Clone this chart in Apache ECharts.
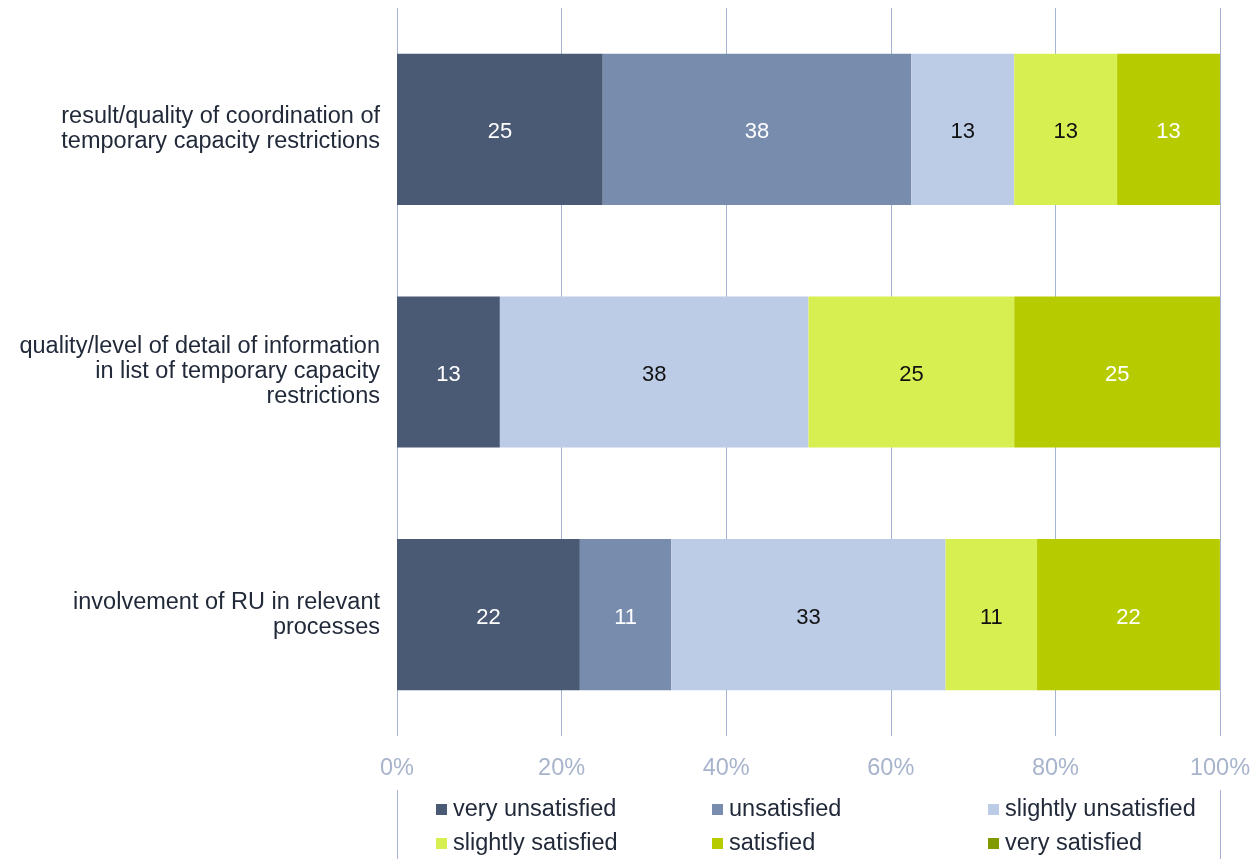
<!DOCTYPE html>
<html>
<head>
<meta charset="utf-8">
<title>Satisfaction with temporary capacity restrictions</title>
<script src="https://cdn.jsdelivr.net/npm/echarts@6/dist/echarts.min.js"></script>
<style>
  html, body { margin: 0; padding: 0; background: #ffffff; }
  #chart { width: 1250px; height: 859px; }
</style>
</head>
<body>
<div id="chart"></div>
<script>
// Survey items (top to bottom)
const categories = [
  'result/quality of coordination of\ntemporary capacity restrictions',
  'quality/level of detail of information\nin list of temporary capacity\nrestrictions',
  'involvement of RU in relevant\nprocesses'
];

// Answer options, in stacking order
const answerNames = [
  'very unsatisfied',
  'unsatisfied',
  'slightly unsatisfied',
  'slightly satisfied',
  'satisfied',
  'very satisfied'
];

// Share of respondents per answer (%), one value per survey item
const veryUnsatisfied     = [25,   12.5, 22.22];
const unsatisfied         = [37.5, 0,    11.11];
const slightlyUnsatisfied = [12.5, 37.5, 33.33];
const slightlySatisfied   = [12.5, 25,   11.11];
const satisfied           = [12.5, 25,   22.22];
const verySatisfied       = [0,    0,    0];

const xTickLabels = ['0%', '20%', '40%', '60%', '80%', '100%'];

const seriesValues = [veryUnsatisfied, unsatisfied, slightlyUnsatisfied, slightlySatisfied, satisfied, verySatisfied];
const colors = ['#4a5a74', '#788cae', '#bdcce6', '#d8ef52', '#b7cc00', '#809a00'];
const labelColors = ['#ffffff', '#ffffff', '#111111', '#111111', '#ffffff', '#ffffff'];

const FONT = '"Liberation Sans", Arial, sans-serif';
const chart = echarts.init(document.getElementById('chart'), null, { renderer: 'canvas' });

const series = seriesValues.map((vals, i) => ({
  name: answerNames[i],
  type: 'bar',
  stack: 'total',
  data: vals,
  barCategoryGap: '37.7%',
  itemStyle: { color: colors[i] },
  label: {
    show: true,
    position: 'inside',
    offset: [0, 3],
    color: labelColors[i],
    fontFamily: FONT,
    fontSize: 22,
    formatter: p => (p.value > 0 ? String(Math.round(p.value)) : '')
  },
  emphasis: { disabled: true }
}));

chart.setOption({
  animation: false,
  backgroundColor: '#ffffff',
  grid: { left: 397, right: 30, top: 8, height: 728, containLabel: false, outerBoundsMode: 'none' },
  xAxis: {
    type: 'value',
    min: 0,
    max: 100,
    interval: 20,
    axisLine: { show: false },
    axisTick: { show: false },
    splitLine: { show: true, lineStyle: { color: '#a4b3d1', width: 1 } },
    axisLabel: {
      color: '#a7b4cc',
      fontFamily: FONT,
      fontSize: 23.5,
      margin: 21,
      formatter: v => xTickLabels[Math.round(v / 20)]
    }
  },
  yAxis: {
    type: 'category',
    inverse: true,
    data: categories,
    axisLine: { show: false },
    axisTick: { show: false },
    axisLabel: {
      color: '#222a3a',
      fontFamily: FONT,
      fontSize: 23.5,
      lineHeight: 25,
      align: 'right',
      margin: 17
    }
  },
  legend: {
    data: answerNames,
    left: 436,
    top: 797,
    width: 830,
    orient: 'horizontal',
    itemWidth: 11,
    itemHeight: 11,
    itemGap: 9,
    icon: 'rect',
    padding: 0,
    selectedMode: false,
    textStyle: {
      color: '#222a3a',
      fontFamily: FONT,
      fontSize: 23.5,
      width: 250,
      height: 25,
      lineHeight: 25,
      padding: [0, 0, 0, 1]
    }
  },
  graphic: [
    { type: 'line', shape: { x1: 397.5, y1: 790, x2: 397.5, y2: 859 }, style: { stroke: '#a4b3d1', lineWidth: 1 } },
    { type: 'line', shape: { x1: 1220.5, y1: 790, x2: 1220.5, y2: 859 }, style: { stroke: '#a4b3d1', lineWidth: 1 } }
  ],
  series: series
});
</script>
</body>
</html>
